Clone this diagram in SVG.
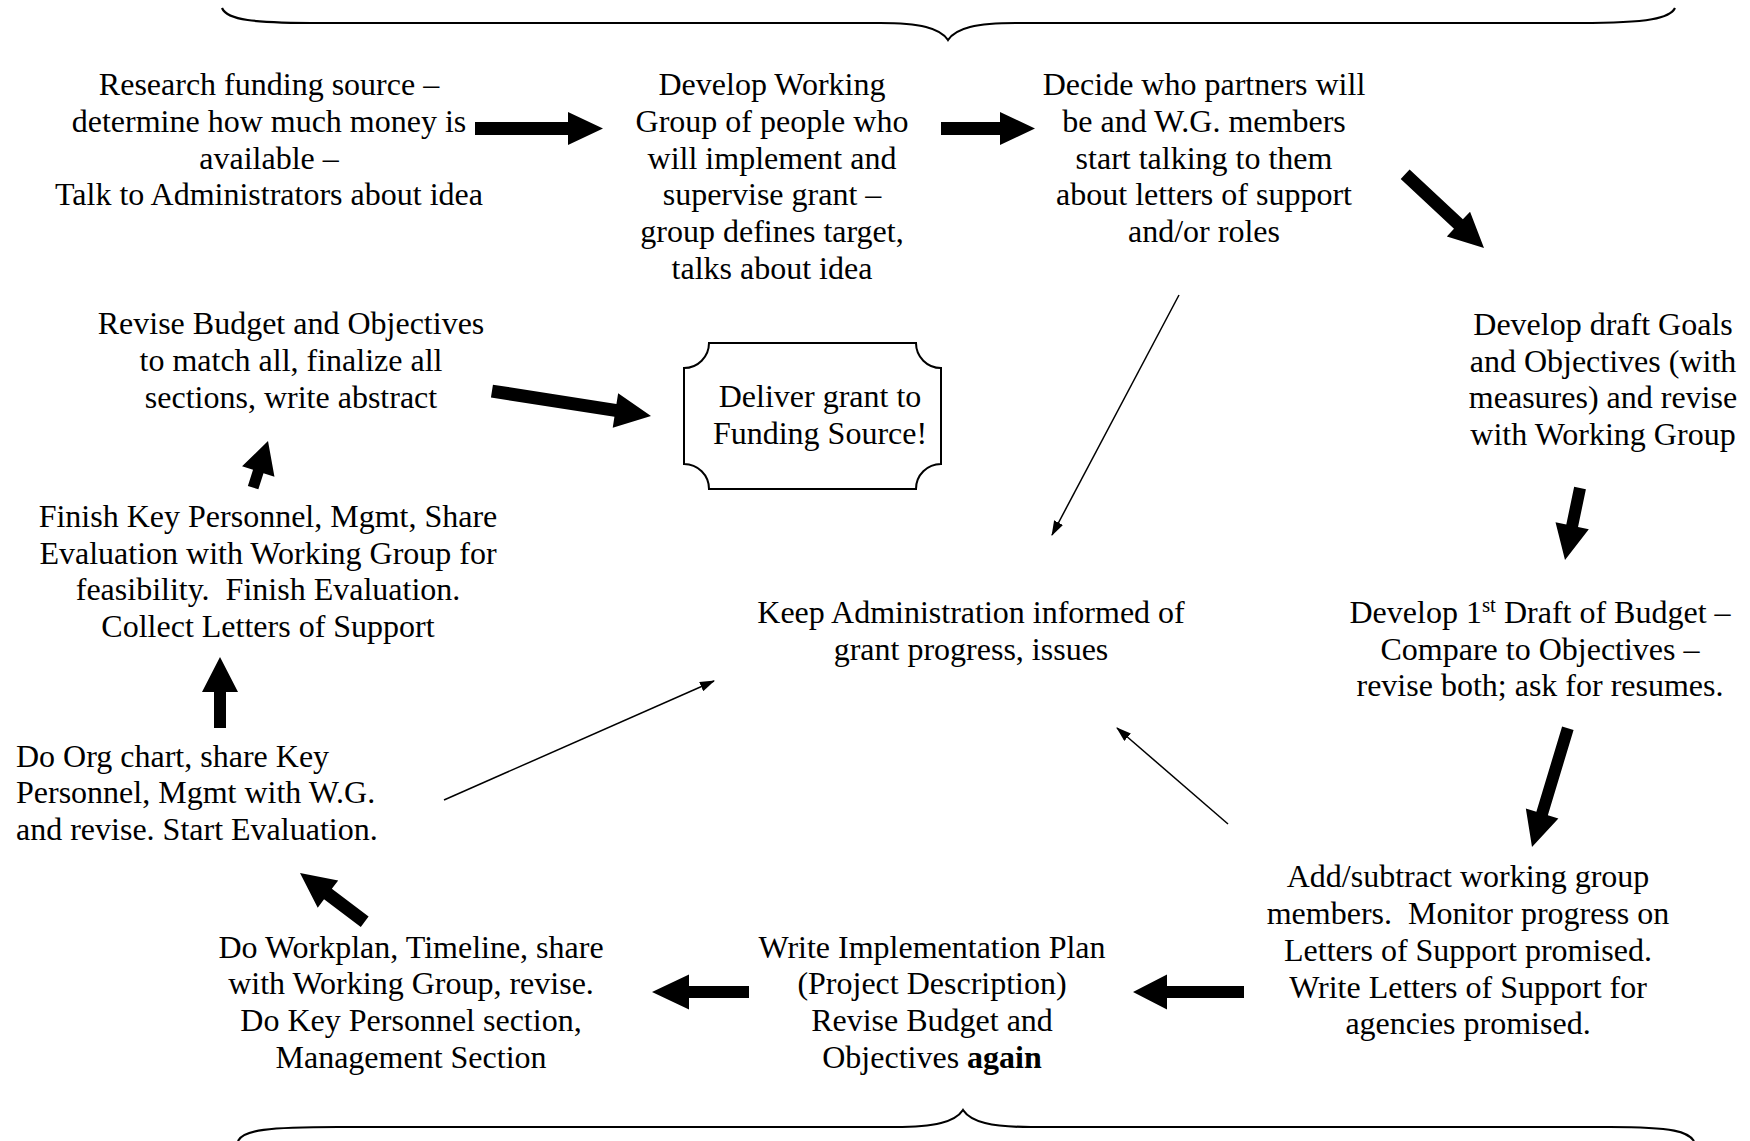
<svg xmlns="http://www.w3.org/2000/svg" width="1750" height="1141" viewBox="0 0 1750 1141">
<style>
  text { font-family: "Liberation Serif", "Times New Roman", serif; font-size: 32px; fill: #000; }
  .c { text-anchor: middle; }
  .l { text-anchor: start; }
  .thick { fill: #000; stroke: none; }
  .thin { stroke: #000; stroke-width: 1.5; fill: none; }
  .brace { stroke: #000; stroke-width: 2.2; fill: none; }
  .box { stroke: #000; stroke-width: 2; fill: #fff; }
</style>
<defs>
  <marker id="ah" viewBox="0 0 15 10" refX="14" refY="5" markerWidth="15" markerHeight="10" orient="auto" markerUnits="userSpaceOnUse">
    <path d="M0,0 L15,5 L0,10 z" fill="#000"/>
  </marker>
</defs>
<rect width="1750" height="1141" fill="#fff"/>

<g id="braces">
  <path class="brace" d="M222,8 C227,20 252,23 322,23 L880,23 C920,23 940,28 948,40 C956,28 976,23 1016,23 L1580,23 C1650,23 1670,18 1675,8"/>
  <path class="brace" d="M238,1141 C243,1130 268,1127 338,1127 L895,1127 C935,1127 955,1122 963,1110 C971,1122 991,1127 1031,1127 L1610,1127 C1675,1127 1688,1132 1694,1141"/>
</g>

<g id="connectors">
  <polygon class="thick" transform="translate(603,128.5)" points="0,0 -35,-16.5 -35,-6.5 -128,-6.5 -128,6.5 -35,6.5 -35,16.5"/>
  <polygon class="thick" transform="translate(1035,128.5)" points="0,0 -35,-16.5 -35,-6.5 -94,-6.5 -94,6.5 -35,6.5 -35,16.5"/>
  <polygon class="thick" transform="translate(1484,248) rotate(43.1)" points="0,0 -35,-17 -35,-6.5 -108,-6.5 -108,6.5 -35,6.5 -35,17"/>
  <polygon class="thick" transform="translate(1565,560) rotate(101.8)" points="0,0 -35,-17 -35,-6 -73.5,-6 -73.5,6 -35,6 -35,17"/>
  <polygon class="thick" transform="translate(1532,847) rotate(106.8)" points="0,0 -35,-17 -35,-6 -124,-6 -124,6 -35,6 -35,17"/>
  <polygon class="thick" transform="translate(1133,992) rotate(180)" points="0,0 -34,-17.5 -34,-6 -111,-6 -111,6 -34,6 -34,17.5"/>
  <polygon class="thick" transform="translate(652,992) rotate(180)" points="0,0 -37,-17.5 -37,-6 -97,-6 -97,6 -37,6 -37,17.5"/>
  <polygon class="thick" transform="translate(300,873) rotate(-143)" points="0,0 -35,-17 -35,-6.5 -81,-6.5 -81,6.5 -35,6.5 -35,17"/>
  <polygon class="thick" transform="translate(220,657) rotate(-90)" points="0,0 -35,-18 -35,-6 -71,-6 -71,6 -35,6 -35,18"/>
  <polygon class="thick" transform="translate(268,441) rotate(-72.3)" points="0,0 -32,-17 -32,-5.5 -49,-5.5 -49,5.5 -32,5.5 -32,17"/>
  <polygon class="thick" transform="translate(651,416) rotate(8.9)" points="0,0 -36,-17.5 -36,-6.5 -161,-6.5 -161,6.5 -36,6.5 -36,17.5"/>
  <line class="thin" x1="1179" y1="295" x2="1052" y2="535" marker-end="url(#ah)"/>
  <line class="thin" x1="444" y1="800" x2="714" y2="681" marker-end="url(#ah)"/>
  <line class="thin" x1="1228" y1="824" x2="1117" y2="728" marker-end="url(#ah)"/>
</g>

<g id="n-research">
  <text class="c"><tspan x="269" y="95">Research funding source –</tspan><tspan x="269" y="132">determine how much money is</tspan><tspan x="269" y="169">available –</tspan><tspan x="269" y="205">Talk to Administrators about idea</tspan></text>
</g>

<g id="n-working-group">
  <text class="c"><tspan x="772" y="95">Develop Working</tspan><tspan x="772" y="132">Group of people who</tspan><tspan x="772" y="169">will implement and</tspan><tspan x="772" y="205">supervise grant –</tspan><tspan x="772" y="242">group defines target,</tspan><tspan x="772" y="279">talks about idea</tspan></text>
</g>

<g id="n-partners">
  <text class="c"><tspan x="1204" y="95">Decide who partners will</tspan><tspan x="1204" y="132">be and W.G. members</tspan><tspan x="1204" y="169">start talking to them</tspan><tspan x="1204" y="205">about letters of support</tspan><tspan x="1204" y="242">and/or roles</tspan></text>
</g>

<g id="n-goals">
  <text class="c"><tspan x="1603" y="335">Develop draft Goals</tspan><tspan x="1603" y="372">and Objectives (with</tspan><tspan x="1603" y="408">measures) and revise</tspan><tspan x="1603" y="445">with Working Group</tspan></text>
</g>

<g id="n-budget">
  <text class="c"><tspan x="1540" y="623">Develop 1<tspan font-size="21" dy="-11">st</tspan><tspan dy="11"> Draft of Budget –</tspan></tspan><tspan x="1540" y="660">Compare to Objectives –</tspan><tspan x="1540" y="696">revise both; ask for resumes.</tspan></text>
</g>

<g id="n-add-subtract">
  <text class="c"><tspan x="1468" y="887">Add/subtract working group</tspan><tspan x="1468" y="924">members.&#160; Monitor progress on</tspan><tspan x="1468" y="961">Letters of Support promised.</tspan><tspan x="1468" y="998">Write Letters of Support for</tspan><tspan x="1468" y="1034">agencies promised.</tspan></text>
</g>

<g id="n-implementation">
  <text class="c"><tspan x="932" y="958">Write Implementation Plan</tspan><tspan x="932" y="994">(Project Description)</tspan><tspan x="932" y="1031">Revise Budget and</tspan><tspan x="932" y="1068">Objectives <tspan font-weight="bold">again</tspan></tspan></text>
</g>

<g id="n-workplan">
  <text class="c"><tspan x="411" y="958">Do Workplan, Timeline, share</tspan><tspan x="411" y="994">with Working Group, revise.</tspan><tspan x="411" y="1031">Do Key Personnel section,</tspan><tspan x="411" y="1068">Management Section</tspan></text>
</g>

<g id="n-org-chart">
  <text class="l"><tspan x="16" y="767">Do Org chart, share Key</tspan><tspan x="16" y="803">Personnel, Mgmt with W.G.</tspan><tspan x="16" y="840">and revise. Start Evaluation.</tspan></text>
</g>

<g id="n-finish">
  <text class="c"><tspan x="268" y="527">Finish Key Personnel, Mgmt, Share</tspan><tspan x="268" y="564">Evaluation with Working Group for</tspan><tspan x="268" y="600">feasibility.&#160; Finish Evaluation.</tspan><tspan x="268" y="637">Collect Letters of Support</tspan></text>
</g>

<g id="n-revise">
  <text class="c"><tspan x="291" y="334">Revise Budget and Objectives</tspan><tspan x="291" y="371">to match all, finalize all</tspan><tspan x="291" y="408">sections, write abstract</tspan></text>
</g>

<g id="n-deliver">
  <path class="box" d="M709,343 L916,343 A25,25 0 0 0 941,368 L941,464 A25,25 0 0 0 916,489 L709,489 A25,25 0 0 0 684,464 L684,368 A25,25 0 0 0 709,343 Z"/>
  <text class="c"><tspan x="820" y="407">Deliver grant to</tspan><tspan x="820" y="444">Funding Source!</tspan></text>
</g>

<g id="n-keep-admin">
  <text class="c"><tspan x="971" y="623">Keep Administration informed of</tspan><tspan x="971" y="660">grant progress, issues</tspan></text>
</g>
</svg>
